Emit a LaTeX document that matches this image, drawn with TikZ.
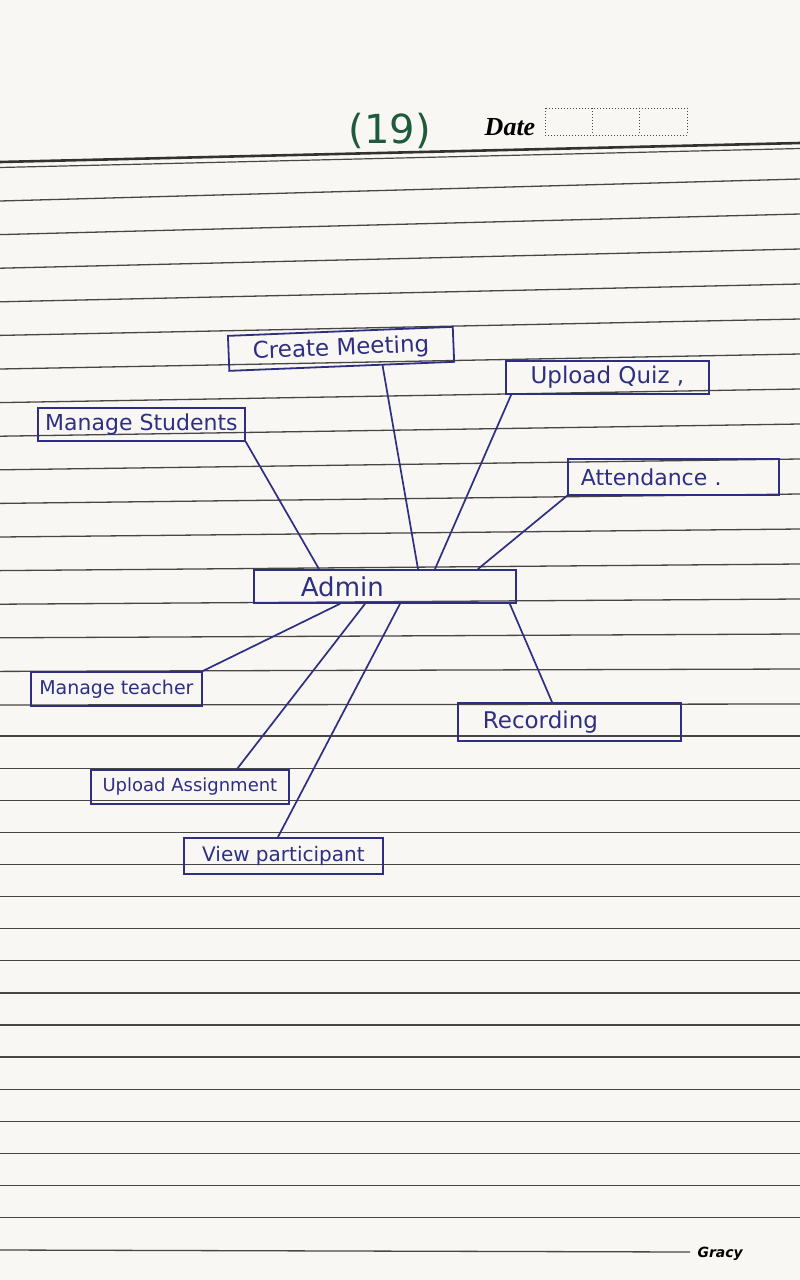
\documentclass[tikz,border=0pt]{standalone}
\usepackage{fontspec}
\setmainfont{DejaVu Sans}
\newfontfamily\datefont{Liberation Serif}
\usetikzlibrary{calc}
\definecolor{ink}{HTML}{2E2F82}
\definecolor{paper}{HTML}{F8F7F4}
\definecolor{rulecol}{HTML}{4A4646}
\definecolor{greenink}{HTML}{1F5A3D}
\tikzset{
  box/.style={draw=ink, line width=1.8pt, text=ink, inner sep=0pt, anchor=north west},
  conn/.style={draw=ink, line width=1.7pt, line cap=round},
  ruleline/.style={draw=rulecol, line width=1.3pt},
  fs/.style={font=\fontsize{#1}{#1}\selectfont}
}
\begin{document}
\begin{tikzpicture}[x=1pt,y=-1pt]
\fill[paper] (0,0) rectangle (800,1280);
\useasboundingbox (0,0) rectangle (800,1280);

% ruled lines
\foreach \i in {0,...,15} { \draw[ruleline] (0,{201+33.6*\i}) -- (800,{179+35*\i}); }
\foreach \i in {16,...,31} { \draw[ruleline] (0,{704+32.1*(\i-15)}) -- (800,{704+32.1*(\i-15)}); }
\draw[ruleline] (0,1250) -- (690,1252);

% header double line
\draw[draw=rulecol!70!black, line width=2.6pt] (0,162) -- (800,143);
\draw[draw=rulecol, line width=1.2pt] (0,167.5) -- (800,148.5);

% header texts
\node[text=greenink, fs=40] (num) at (390,131) {(19)};
\node[font=\fontsize{26}{28}\selectfont\datefont\itshape\bfseries] (date) at (510,127) {Date};
\draw[dotted, line width=1pt, draw=rulecol] (545,108) rectangle (687,135);
\draw[dotted, line width=1pt, draw=rulecol] (592,108) -- (592,135);
\draw[dotted, line width=1pt, draw=rulecol] (639,108) -- (639,135);
\node[font=\fontsize{14}{16}\selectfont\bfseries\itshape, anchor=west] (gracy) at (694,1254) {Gracy};

% nodes
\node[box, fs=23, minimum width=225pt, minimum height=35pt, rotate=2.3] (cm) at (227,335) {Create Meeting};
\node[box, fs=22, minimum width=207pt, minimum height=33pt] (ms) at (37,407) {Manage Students};
\node[box, fs=23, minimum width=203pt, minimum height=33pt] (uq) at (505,360) {Upload Quiz ,};
\node[box, fs=22, minimum height=36pt, inner xsep=13pt, text width=185pt, align=left] (att) at (567,458) {Attendance .};
\node[box, fs=26, minimum height=33pt, inner xsep=47pt, text width=168pt, align=left] (adm) at (253,569) {Admin};
\node[box, fs=19, minimum width=171pt, minimum height=34pt] (mt) at (30,671) {Manage teacher};
\node[box, fs=23, minimum height=38pt, inner xsep=25pt, text width=173pt, align=left] (rec) at (457,702) {Recording};
\node[box, fs=18, minimum width=198pt, minimum height=34pt] (ua) at (90,769) {Upload Assignment};
\node[box, fs=20, minimum width=199pt, minimum height=36pt] (vp) at (183,837) {View participant};

% connectors
\draw[conn] (ms.south east) -- ([xshift=66pt]adm.north west);
\draw[conn] ($(cm.south west)!0.68!(cm.south east)$) -- ([xshift=165pt]adm.north west);
\draw[conn] ($(uq.south west)!0.03!(uq.south east)$) -- ([xshift=182pt]adm.north west);
\draw[conn] (att.south west) -- ([xshift=225pt]adm.north west);
\draw[conn] ([xshift=87pt]adm.south west) -- (mt.north east);
\draw[conn] ([xshift=112pt]adm.south west) -- ([xshift=147pt]ua.north west);
\draw[conn] ([xshift=147pt]adm.south west) -- ([xshift=95pt]vp.north west);
\draw[conn] ([xshift=-7pt]adm.south east) -- ([xshift=95pt]rec.north west);
\end{tikzpicture}
\end{document}
